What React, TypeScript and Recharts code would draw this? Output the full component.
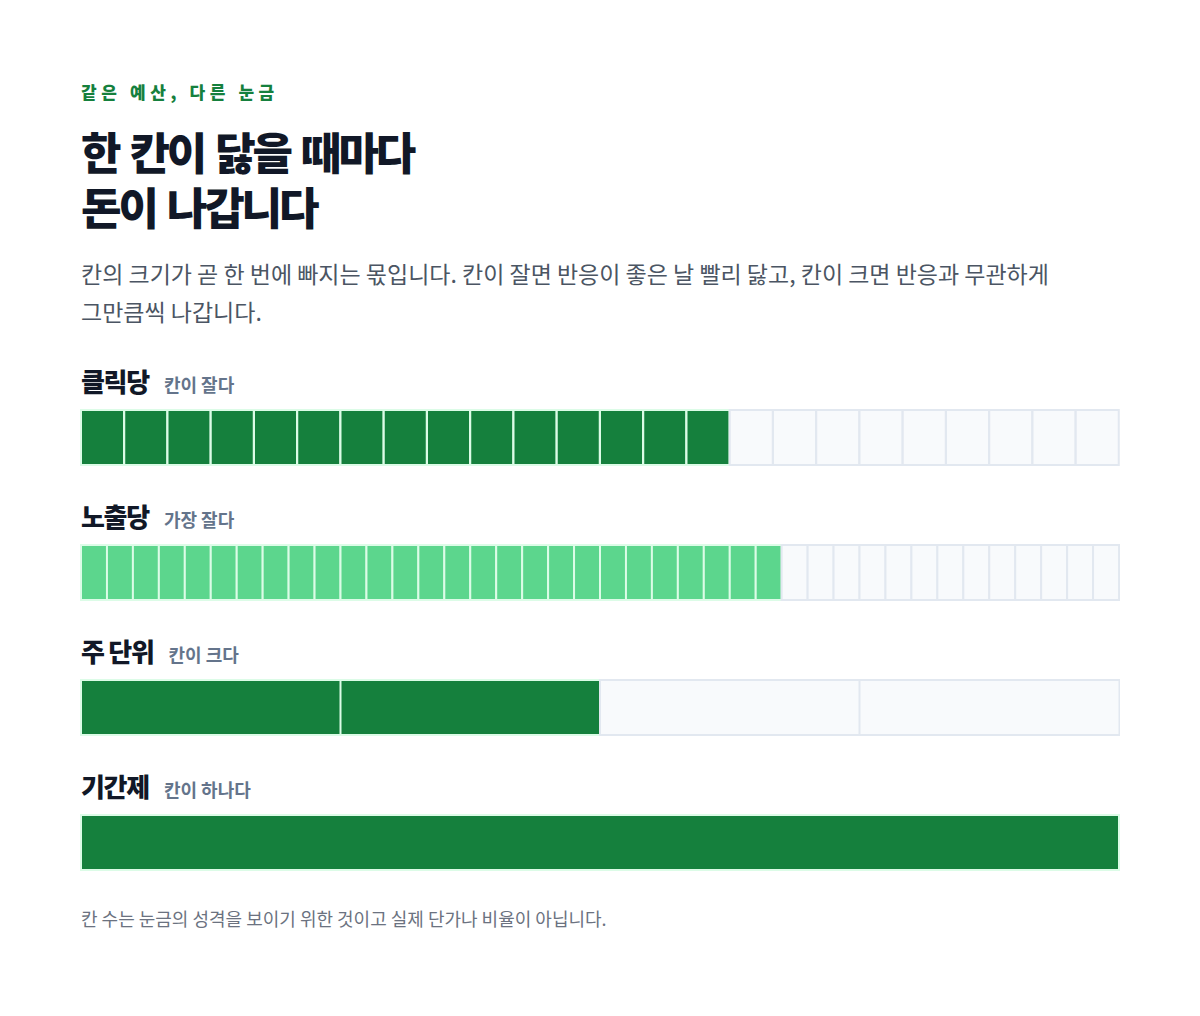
import React from 'react';
import { BarChart, Bar, Cell, XAxis, YAxis } from 'recharts';

// 행별 과금 단위와 칸 수
const rowNames = ['클릭당', '노출당', '주 단위', '기간제'];
const rowNotes = ['칸이 잘다', '가장 잘다', '칸이 크다', '칸이 하나다'];
const cellCounts = [24, 40, 4, 1];
const spentCounts = [15, 27, 2, 1];

const DARK = '#15803d';
const LIGHT = '#5cd68d';
const EMPTY = '#f8fafc';
const FONT = '"Noto Sans CJK KR", "Noto Sans", sans-serif';

const rowFill = [DARK, LIGHT, DARK, DARK];

interface CellRowProps {
    total: number;
    spent: number;
    fill: string;
}

const CellRow: React.FC<CellRowProps> = ({ total, spent, fill }) => {
    const data = Array.from({ length: total }, (_, i) => ({ slot: i, value: 1, spent: i < spent }));

    return (
        <div style={{ marginLeft: -1 }}>
            <BarChart
                width={1040}
                height={57}
                data={data}
                margin={{ top: 1, right: 1, bottom: 1, left: 1 }}
                barCategoryGap={0}
                barGap={0}
            >
                <XAxis dataKey="slot" type="category" hide />
                <YAxis type="number" domain={[0, 1]} hide />
                <Bar dataKey="value" strokeWidth={2} isAnimationActive={false}>
                    {data.map((d) => (
                        <Cell
                            key={d.slot}
                            fill={d.spent ? fill : EMPTY}
                            stroke={d.spent ? '#dcfce7' : '#e2e8f0'}
                        />
                    ))}
                </Bar>
            </BarChart>
        </div>
    );
};

const App: React.FC = () => {
    return (
        <div style={{ fontFamily: FONT, padding: '72px 0 0 73px', width: 1100 }}>
            <div style={{ fontSize: 17, lineHeight: '24px', fontWeight: 800, color: DARK, letterSpacing: '0.27em' }}>
                같은 예산, 다른 눈금
            </div>
            <div
                style={{
                    marginTop: 20,
                    fontSize: 44,
                    lineHeight: '55px',
                    fontWeight: 900,
                    color: '#111827',
                    letterSpacing: '-0.07em',
                    wordSpacing: 4,
                }}
            >
                <div>한 칸이 닳을 때마다</div>
                <div>돈이 나갑니다</div>
            </div>
            <div style={{ marginTop: 20, fontSize: 23, lineHeight: '38px', color: '#4b5563' }}>
                칸의 크기가 곧 한 번에 빠지는 몫입니다. 칸이 잘면 반응이 좋은 날 빨리 닳고, 칸이 크면 반응과 무관하게
                <br />
                그만큼씩 나갑니다.
            </div>
            {rowNames.map((name, i) => (
                <div key={name} style={{ marginTop: i === 0 ? 36 : 35 }}>
                    <div style={{ display: 'flex', alignItems: 'baseline', height: 30, lineHeight: '30px', marginBottom: 13 }}>
                        <span style={{ fontSize: 26, fontWeight: 800, color: '#111827', letterSpacing: '-0.05em' }}>{name}</span>
                        <span
                            style={{
                                marginLeft: 15,
                                fontSize: 18,
                                fontWeight: 700,
                                color: '#64748b',
                            }}
                        >
                            {rowNotes[i]}
                        </span>
                    </div>
                    <CellRow total={cellCounts[i]} spent={spentCounts[i]} fill={rowFill[i]} />
                </div>
            ))}
            <div style={{ marginTop: 35, fontSize: 18, lineHeight: '24px', color: '#6b7280' }}>
                칸 수는 눈금의 성격을 보이기 위한 것이고 실제 단가나 비율이 아닙니다.
            </div>
        </div>
    );
};

export default App;
